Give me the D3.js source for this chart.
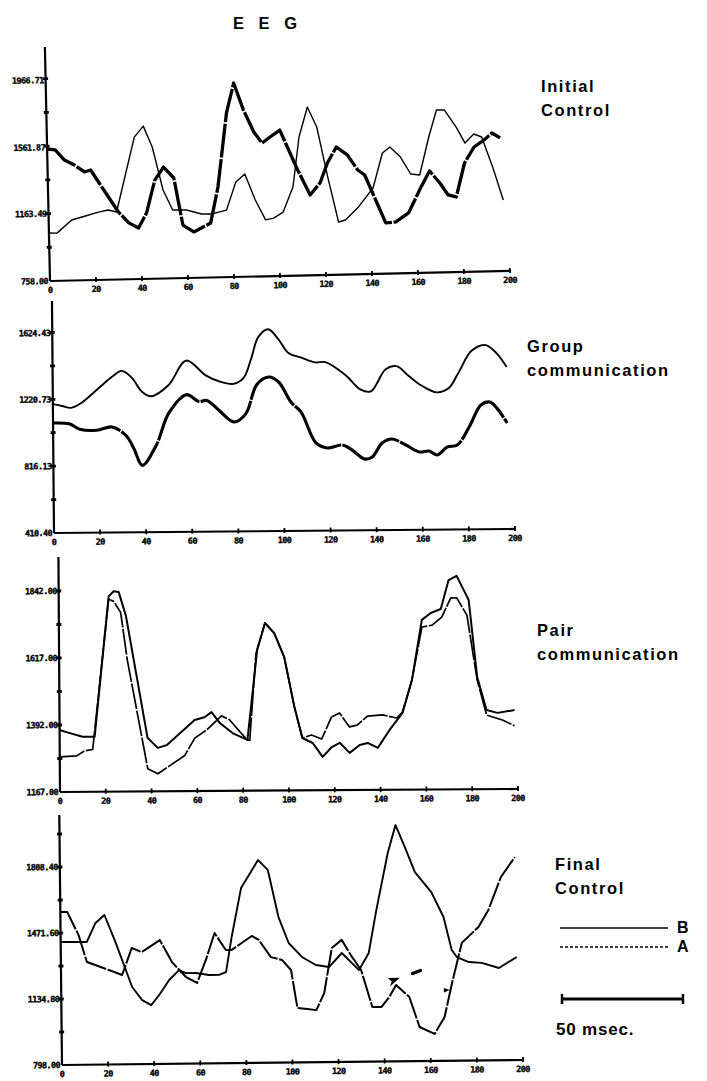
<!DOCTYPE html>
<html>
<head>
<meta charset="utf-8">
<script src="https://cdn.jsdelivr.net/npm/d3@7"></script>
<style>
  body { margin: 0; background: #fff; }
  svg { display: block; }
</style>
</head>
<body>
<svg id="chart" width="707" height="1081"></svg>
<script>
// ---- EEG traces, time in msec, amplitude in recording units ----

// Initial Control
const initialTimeB = [0,3.5,10,16,21.7,26,29.6,38,42,45.7,50,54,60,66.5,71,77.4,81.7,85.7,90,94.3,97.8,102,106.5,109.6,113.5,117.4,121.7,126,129,134.8,141.3,145.7,149,153.5,157.8,161.7,166,169.6,173,178,181.7,185.6,189,193.5,197.8];
const initialB = [1047,1045,1122,1144,1166,1177,1164,1612,1677,1550,1290,1169,1167,1141,1140,1161,1329,1376,1218,1097,1107,1142,1291,1591,1770,1649,1347,1075,1086,1163,1275,1484,1519,1457,1354,1347,1574,1735,1735,1630,1533,1586,1567,1385,1186];
const initialTimeA = [0,3.5,7.4,11.7,16,18.7,24.8,30.4,34.8,39,42.6,46.5,50.4,54.8,58.3,63,70.4,73.9,78.3,81.7,85.7,90,93.5,97,101.3,108.7,113.9,118.3,121.7,125.7,130.4,134.8,137.8,146.5,150.9,156.5,162.2,166,170.4,173.9,177.4,181.3,185.6,190,193.5,197];
const initialA = [1552,1545,1483,1452,1409,1420,1286,1164,1097,1065,1154,1351,1428,1361,1077,1034,1086,1301,1745,1924,1760,1627,1560,1595,1635,1393,1241,1312,1431,1526,1477,1385,1354,1063,1068,1120,1275,1370,1296,1223,1210,1413,1508,1549,1590,1559];
const initialTicks = [758.00, 1163.49, 1561.87, 1966.71];

// Group communication
const groupTimeB = [0,4,7.8,12,20,25.6,30,34.3,38.6,42.5,50.3,58,66.4,72,78.5,82.9,86,89.4,93.7,98,102.4,108,114,118.4,127,133.6,138,144.5,149.2,154.4,160,166.6,171.8,176,181.8,187.9,192.6,197];
const groupB = [1193,1181,1169,1195,1288,1354,1391,1349,1265,1235,1303,1450,1359,1323,1306,1343,1450,1590,1636,1576,1491,1462,1432,1433,1354,1264,1253,1387,1405,1346,1286,1244,1269,1360,1494,1528,1479,1394];
const groupTimeA = [0,7,12,19,25.6,31.7,35,38.6,44.7,50.3,58,63.3,66.8,72,78.5,83.7,88.5,93.7,98,103.3,107.6,114,118.9,125.4,129.7,135,138.4,142.7,147,153,158.8,163,166.6,171,175.3,180.5,185.7,189.6,192.6,197];
const groupA = [1078,1072,1037,1032,1051,997,918,816,938,1133,1243,1201,1207,1147,1075,1125,1300,1346,1315,1193,1132,943,912,929,898,843,855,939,963,926,883,888,864,912,923,1032,1165,1182,1145,1054];
const groupTicks = [410.40, 816.13, 1220.73, 1624.43];

// Pair communication
const pairTimeB = [0,3,10,15.3,21.8,24,26.2,29.3,38.4,42.8,46.7,59,63.3,66.4,70,75.5,82,86.5,90,94,98.3,102.6,106,110.5,114.8,118.8,122.3,126.6,131,134.5,138.9,144.1,149.8,154,158.5,162.4,166.8,170.3,173.8,179,182.5,186.5,191.3,198.7];
const pairB = [1375,1368,1352,1352,1823,1840,1837,1757,1347,1313,1322,1406,1415,1432,1395,1361,1338,1639,1730,1696,1615,1447,1343,1326,1279,1312,1326,1292,1318,1325,1308,1368,1425,1535,1737,1760,1773,1870,1884,1803,1544,1433,1423,1432];
const pairTimeA = [0,7.4,11,14.4,21.8,24,27,29.7,38.4,42.8,54.6,59,64.2,70.7,74.2,81.7,83,86,90,94,98.3,102.6,106,110,114.4,118.8,122.3,126.6,130,134.5,141,147.2,149.8,154,158.5,163,167.2,171.2,173.8,178.2,182.5,186.5,193.4,198.7];
const pairA = [1285,1288,1305,1309,1813,1806,1769,1612,1243,1226,1287,1345,1372,1419,1406,1339,1336,1629,1730,1696,1615,1447,1343,1353,1339,1413,1426,1379,1385,1415,1419,1408,1428,1535,1713,1719,1746,1810,1810,1752,1534,1416,1399,1379];
const pairTicks = [1167.00, 1392.00, 1617.00, 1842.00];

// Final Control
const finalTimeB = [0,11.3,15.2,19.1,23.9,30.8,35.1,39,42.5,46.9,51.2,54.2,58.6,64.2,68.5,71.6,74.2,78.5,86,90.2,94.6,98.9,104.6,110.6,116.3,121.9,129.3,133.6,137.1,142.3,145.8,149.7,154,161,166.2,169.6,171.8,177,182.6,190,197.8];
const finalB = [1426,1424,1521,1561,1418,1192,1125,1099,1150,1226,1276,1260,1260,1249,1249,1263,1442,1691,1833,1782,1541,1408,1336,1294,1283,1354,1266,1353,1572,1862,2004,1892,1763,1660,1532,1363,1327,1301,1296,1269,1324];
const finalTimeA = [0,3,7.8,11.3,20.8,26.5,30.8,35.1,43,48.2,54.2,59,62.9,66.8,71.6,74.2,82.9,86,91.1,95.9,99.8,102.4,106.7,110.6,114.1,117.6,121.9,125.8,130.2,134.9,138.8,142.3,145.3,151,155.3,161.8,166.2,169.6,174,181.3,185.7,191.3,197.4];
const finalA = [1579,1578,1460,1322,1280,1254,1391,1370,1430,1317,1240,1209,1326,1463,1376,1376,1446,1425,1337,1322,1270,1076,1070,1064,1151,1380,1421,1343,1266,1077,1076,1127,1188,1126,972,936,1022,1195,1399,1479,1566,1733,1834];
const finalTicks = [798.00, 1134.80, 1471.60, 1808.40];

const timeTicks = [0,20,40,60,80,100,120,140,160,180,200];
const seriesNames = ["B", "A"];

// ---- panel layout ----
const panels = [
  { title: ["Initial", "Control"], tx: 541, ty: 92,
    tB: initialTimeB, vB: initialB, tA: initialTimeA, vA: initialA, ticks: initialTicks,
    x0: 50, x1: 510, yBase: 281, yTop: 80, axisTop: 47, angle: -1.25,
    wB: 1.4, wA: 3.3, dashA: "34,1.6", curve: d3.curveLinear },
  { title: ["Group", "communication"], tx: 527, ty: 352,
    tB: groupTimeB, vB: groupB, tA: groupTimeA, vA: groupA, ticks: groupTicks,
    x0: 54, x1: 515, yBase: 533, yTop: 333, axisTop: 301, angle: -0.5,
    wB: 1.9, wA: 3.1, dashA: "70,1.2", curve: d3.curveCatmullRom.alpha(0.5) },
  { title: ["Pair", "communication"], tx: 537, ty: 636,
    tB: pairTimeB, vB: pairB, tA: pairTimeA, vA: pairA, ticks: pairTicks,
    x0: 60, x1: 518, yBase: 792, yTop: 591, axisTop: 557, angle: -0.38,
    wB: 2.0, wA: 1.7, dashA: "26,1.6", curve: d3.curveLinear },
  { title: ["Final", "Control"], tx: 555, ty: 870,
    tB: finalTimeB, vB: finalB, tA: finalTimeA, vA: finalA, ticks: finalTicks,
    x0: 62, x1: 523, yBase: 1065, yTop: 867, axisTop: 815, angle: -0.62,
    wB: 1.9, wA: 2.0, dashA: "26,1.6", curve: d3.curveLinear }
];

const svg = d3.select("#chart");
const labelFont = "'DejaVu Sans Mono', 'Liberation Mono', monospace";
const titleFont = "'Liberation Sans', Arial, Helvetica, sans-serif";

svg.append("text")
  .attr("x", 233).attr("y", 29)
  .attr("font-family", titleFont).attr("font-weight", "bold")
  .attr("font-size", 16.5).attr("letter-spacing", 5)
  .text("E E G");

panels.forEach(p => {
  const x = d3.scaleLinear().domain([0, 200]).range([p.x0, p.x1]);
  const y = d3.scaleLinear().domain([p.ticks[0], p.ticks[3]]).range([p.yBase, p.yTop]);
  const step = p.ticks[1] - p.ticks[0];

  const g = svg.append("g")
    .attr("transform", `rotate(${p.angle},${p.x0},${p.yBase})`);

  // axes
  g.append("line").attr("x1", p.x0).attr("x2", p.x0)
    .attr("y1", p.yBase).attr("y2", p.axisTop)
    .attr("stroke", "#000").attr("stroke-width", 2.2);
  g.append("line").attr("x1", p.x0).attr("x2", x(200) + 1)
    .attr("y1", p.yBase).attr("y2", p.yBase)
    .attr("stroke", "#000").attr("stroke-width", 2.2);

  // y ticks: labelled every step, dots every half step
  const yTickVals = [];
  for (let v = p.ticks[0] + step / 2; y(v) > p.axisTop + 4; v += step / 2) yTickVals.push(v);
  g.selectAll(".ytick").data(yTickVals).join("line")
    .attr("x1", p.x0 - 2.5).attr("x2", p.x0 + 2.5)
    .attr("y1", d => y(d)).attr("y2", d => y(d))
    .attr("stroke", "#000").attr("stroke-width", 2.8);

  g.selectAll(".ylab").data(p.ticks).join("text")
    .attr("x", p.x0 - 2).attr("y", d => y(d)).attr("dy", "0.35em")
    .attr("text-anchor", "end")
    .attr("font-family", labelFont).attr("font-weight", "bold")
    .attr("font-size", 8.5).attr("letter-spacing", -0.6)
    .attr("stroke", "#000").attr("stroke-width", 0.35)
    .text(d => d.toFixed(2));

  // x ticks
  g.selectAll(".xtick").data(timeTicks.slice(1)).join("line")
    .attr("x1", d => x(d)).attr("x2", d => x(d))
    .attr("y1", p.yBase - 3).attr("y2", p.yBase + 2)
    .attr("stroke", "#000").attr("stroke-width", 1.8);
  g.selectAll(".xlab").data(timeTicks).join("text")
    .attr("x", d => x(d)).attr("y", p.yBase + 12)
    .attr("text-anchor", "middle")
    .attr("font-family", labelFont).attr("font-weight", "bold")
    .attr("font-size", 8.5).attr("letter-spacing", -0.6)
    .attr("stroke", "#000").attr("stroke-width", 0.35)
    .text(d => d);

  // traces
  const line = d3.line().x(d => x(d[0])).y(d => y(d[1])).curve(p.curve);
  const dataB = p.tB.map((t, i) => [t, p.vB[i]]);
  const dataA = p.tA.map((t, i) => [t, p.vA[i]]);
  g.append("path").datum(dataB).attr("class", "trace-" + seriesNames[0])
    .attr("d", line).attr("fill", "none").attr("stroke", "#000")
    .attr("stroke-width", p.wB).attr("stroke-linejoin", "round");
  g.append("path").datum(dataA).attr("class", "trace-" + seriesNames[1])
    .attr("d", line).attr("fill", "none").attr("stroke", "#000")
    .attr("stroke-width", p.wA).attr("stroke-linejoin", "round")
    .attr("stroke-dasharray", p.dashA);

  // condition title
  const tt = svg.append("text")
    .attr("x", p.tx).attr("y", p.ty)
    .attr("font-family", titleFont).attr("font-weight", "bold")
    .attr("font-size", 16.5).attr("letter-spacing", 1.6);
  tt.append("tspan").attr("x", p.tx).text(p.title[0]);
  tt.append("tspan").attr("x", p.tx).attr("dy", 24).text(p.title[1]);

  // hand-drawn arrow marking the A trace in the final control record
  if (p.title[0] === "Final") {
    const ax = x(147), ay = y(1225);
    g.append("path")
      .attr("d", `M${ax},${ay} l-13,3 l4,-3.5 l-2,-5 z`)
      .attr("transform", `rotate(-28,${ax},${ay})`)
      .attr("fill", "#000");
    g.append("path")
      .attr("d", `M${x(152.5)},${y(1245)} l8,-3`)
      .attr("stroke", "#000").attr("stroke-width", 3.2).attr("stroke-linecap", "round");
    g.append("path")
      .attr("d", `M${x(166)},${y(1170)} l6,2 l-6,2.5 z`)
      .attr("fill", "#000");
  }
});

// legend
const legend = svg.append("g");
legend.append("line").attr("x1", 560).attr("x2", 668).attr("y1", 928).attr("y2", 928)
  .attr("stroke", "#000").attr("stroke-width", 1.6);
legend.append("line").attr("x1", 560).attr("x2", 668).attr("y1", 947).attr("y2", 947)
  .attr("stroke", "#000").attr("stroke-width", 1.4).attr("stroke-dasharray", "3,2");
legend.selectAll(".lg").data(seriesNames).join("text")
  .attr("x", 677).attr("y", (d, i) => 933 + i * 19)
  .attr("font-family", titleFont).attr("font-weight", "bold").attr("font-size", 16)
  .text(d => d);

// time scale bar
legend.append("line").attr("x1", 562).attr("x2", 683).attr("y1", 999).attr("y2", 999)
  .attr("stroke", "#000").attr("stroke-width", 3.2);
[562, 683].forEach(bx => legend.append("line")
  .attr("x1", bx).attr("x2", bx).attr("y1", 994).attr("y2", 1004)
  .attr("stroke", "#000").attr("stroke-width", 2.5));
legend.append("text").attr("x", 556).attr("y", 1035)
  .attr("font-family", titleFont).attr("font-weight", "bold")
  .attr("font-size", 17).attr("letter-spacing", 0.8)
  .text("50 msec.");
</script>
</body>
</html>
